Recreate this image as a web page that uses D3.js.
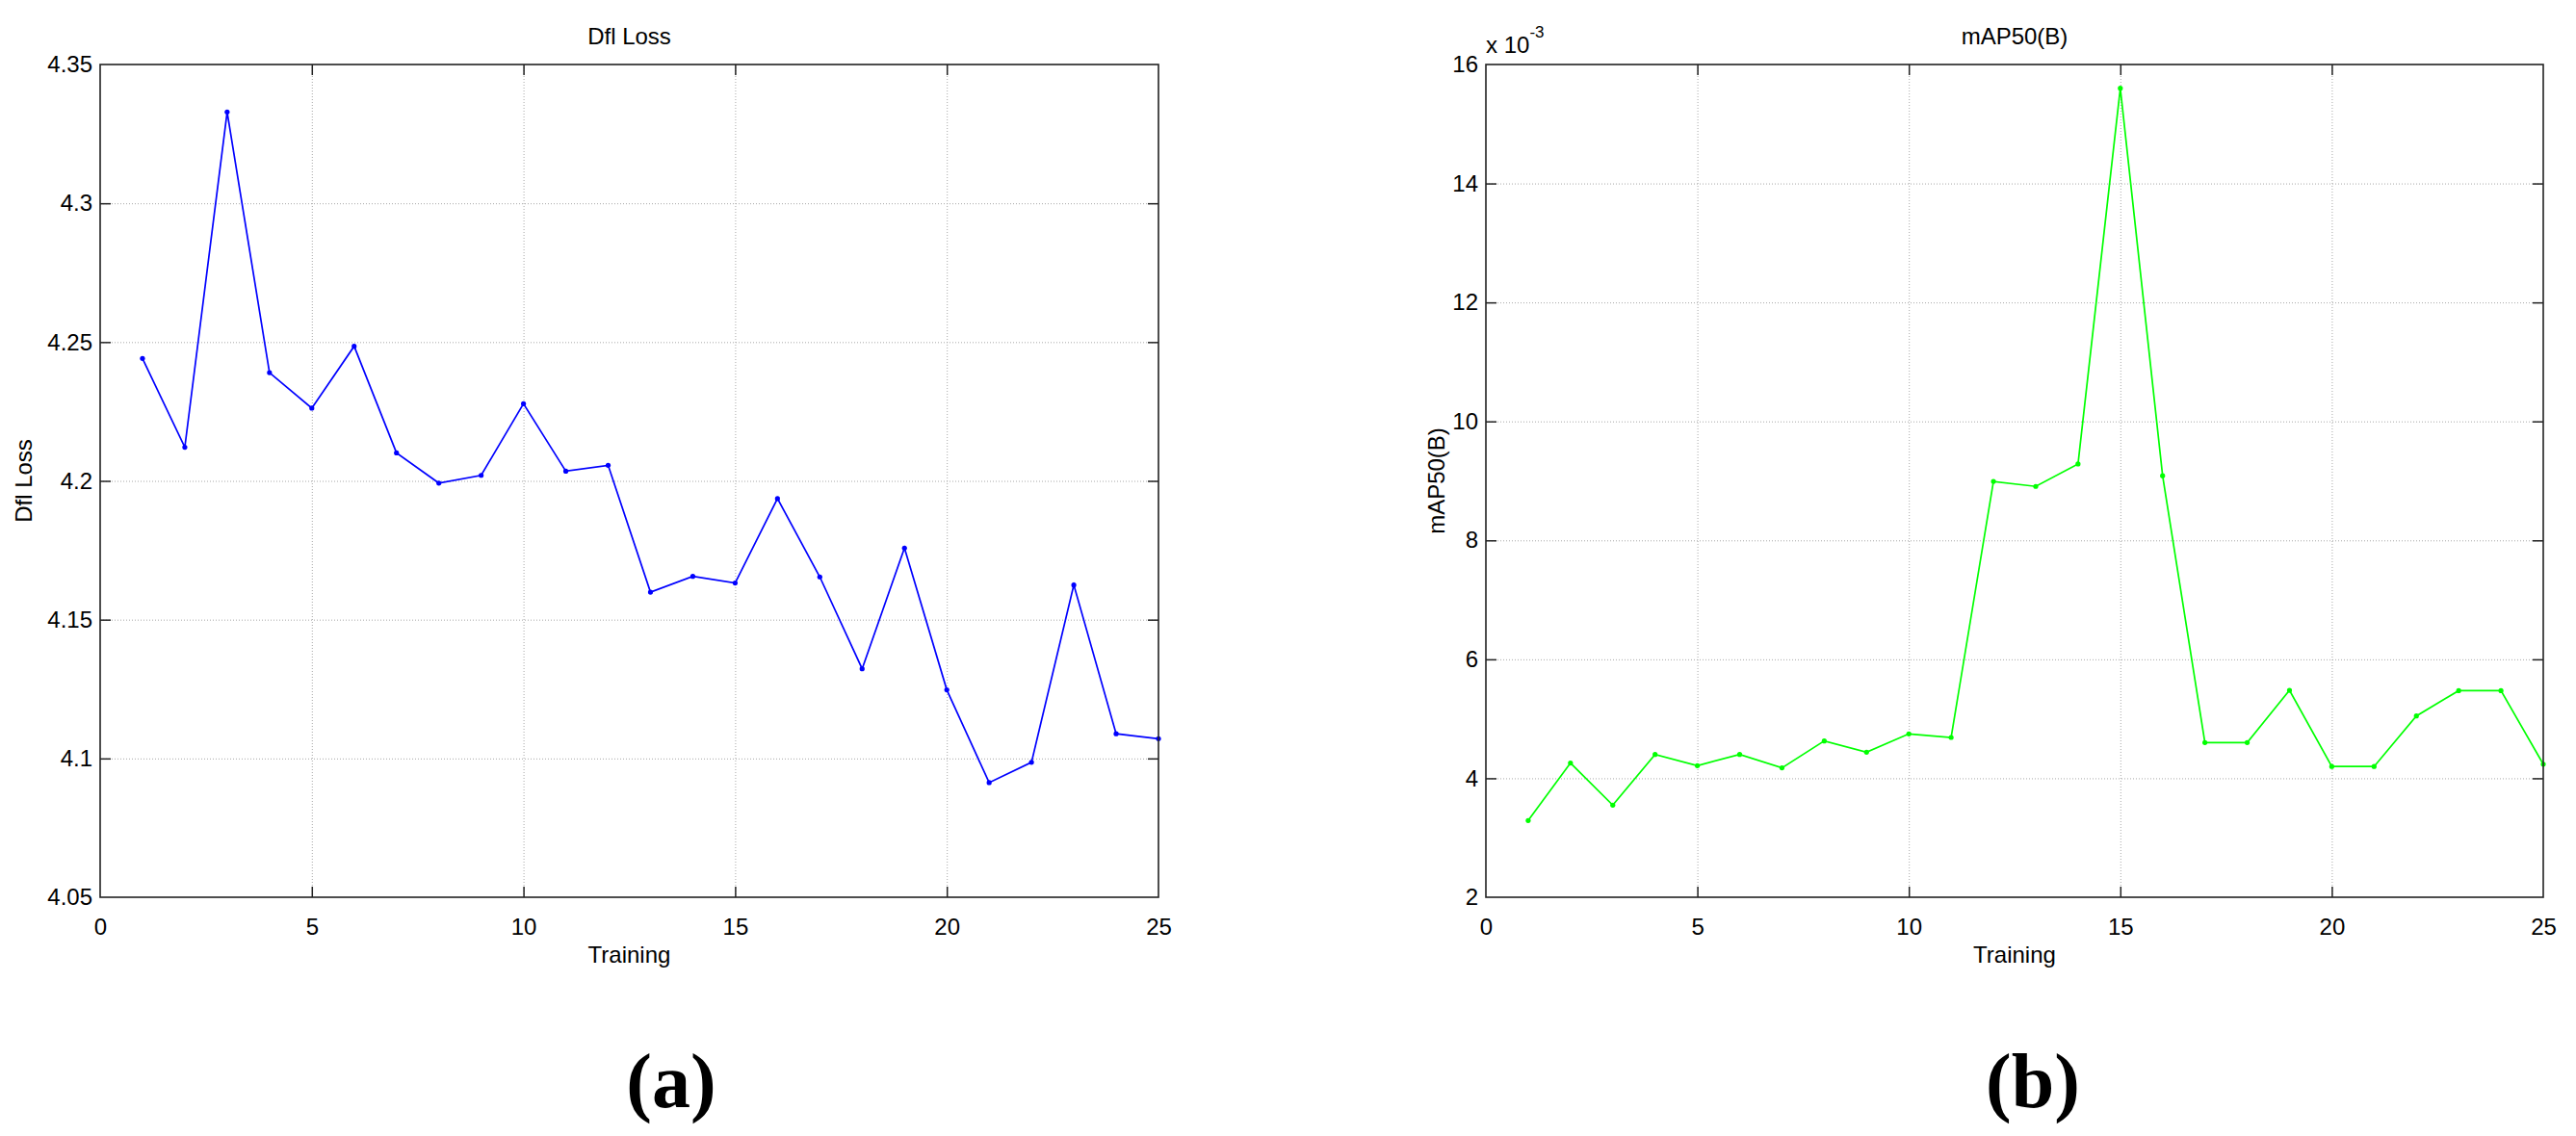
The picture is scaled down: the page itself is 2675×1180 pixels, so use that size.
<!DOCTYPE html>
<html>
<head>
<meta charset="utf-8">
<script src="https://cdn.jsdelivr.net/npm/d3@7"></script>
<style>
  html, body { margin: 0; padding: 0; background: #fff; }
  svg { display: block; }
</style>
</head>
<body>
<svg id="chart" width="2675" height="1180"></svg>
<script>
// ---- data ----
const epochs = [1,2,3,4,5,6,7,8,9,10,11,12,13,14,15,16,17,18,19,20,21,22,23,24,25];
const dflLoss = [4.2441,4.2121,4.3329,4.2390,4.2262,4.2485,4.2101,4.1992,4.2020,4.2278,4.2035,4.2056,4.1599,
                 4.1656,4.1632,4.1936,4.1654,4.1323,4.1758,4.1247,4.0913,4.0986,4.1625,4.1089,4.1071];
const mAP50 = [3.29,4.256,3.549,4.401,4.212,4.401,4.175,4.628,4.439,4.746,4.687,8.99,8.907,9.285,15.60,9.086,
               4.60,4.60,5.479,4.198,4.198,5.048,5.473,5.473,4.237]; // x 10^-3
const xTicks = [0,5,10,15,20,25];
const dflTicks = [4.05,4.1,4.15,4.2,4.25,4.3,4.35];
const mapTicks = [2,4,6,8,10,12,14,16];
const panels = [
  { title: "Dfl Loss", ylabel: "Dfl Loss", xlabel: "Training", values: dflLoss, ticks: dflTicks,
    domain: [4.05, 4.35], color: "#0000ff", caption: "(a)", exponent: null },
  { title: "mAP50(B)", ylabel: "mAP50(B)", xlabel: "Training", values: mAP50, ticks: mapTicks,
    domain: [2, 16], color: "#00ff00", caption: "(b)", exponent: "-3" }
];

// ---- layout ----
const layout = [
  { left: 104, right: 1203, top: 67, bottom: 932, ylabX: 33, capX: 697 },
  { left: 1543, right: 2641, top: 67, bottom: 932, ylabX: 1500, capX: 2111 }
];

const SANS = "'Liberation Sans', Arial, Helvetica, sans-serif";
const SERIF = "'Liberation Serif', 'Times New Roman', serif";
const svg = d3.select("#chart");
const fmt = d => String(+d.toFixed(2));

panels.forEach((p, i) => {
  const L = layout[i];
  const W = L.right - L.left, H = L.bottom - L.top;
  const x = d3.scaleLinear().domain([0, 25]).range([L.left, L.right]);
  const y = d3.scaleLinear().domain(p.domain).range([L.bottom, L.top]);
  const g = svg.append("g");

  // grid
  const grid = g.append("g").attr("class", "grid");
  grid.append("g").attr("transform", `translate(0,${L.bottom})`)
    .call(d3.axisBottom(x).tickValues(xTicks.slice(1, -1)).tickSize(-H).tickFormat(""))
    .call(s => s.select(".domain").remove());
  grid.append("g").attr("transform", `translate(${L.left},0)`)
    .call(d3.axisLeft(y).tickValues(p.ticks.slice(1, -1)).tickSize(-W).tickFormat(""))
    .call(s => s.select(".domain").remove());
  grid.selectAll("line").attr("stroke", "#a8a8a8").attr("stroke-width", 1).attr("stroke-dasharray", "1,2");

  // line + markers
  const line = d3.line().x((d, j) => x(epochs[j])).y(d => y(d));
  g.append("path").datum(p.values).attr("d", line)
    .attr("fill", "none").attr("stroke", p.color).attr("stroke-width", 1.7);
  g.append("g").selectAll("circle").data(p.values).join("circle")
    .attr("cx", (d, j) => x(epochs[j])).attr("cy", d => y(d)).attr("r", 2.6).attr("fill", p.color);

  // axes with inward ticks
  const tickLen = 11;
  const ax = [
    { gen: d3.axisBottom(x).tickValues(xTicks).tickFormat(d3.format("d")), t: `translate(0,${L.bottom})` },
    { gen: d3.axisTop(x).tickValues(xTicks).tickFormat(""), t: `translate(0,${L.top})` },
    { gen: d3.axisLeft(y).tickValues(p.ticks).tickFormat(fmt), t: `translate(${L.left},0)` },
    { gen: d3.axisRight(y).tickValues(p.ticks).tickFormat(""), t: `translate(${L.right},0)` }
  ];
  ax.forEach((a, k) => {
    const ag = g.append("g").attr("transform", a.t)
      .call(a.gen.tickSizeInner(-tickLen).tickSizeOuter(0).tickPadding(k === 0 ? 22 : 8));
    ag.select(".domain").remove();
    ag.selectAll("line").attr("stroke", "#222").attr("stroke-width", 1.5);
    ag.selectAll("text").style("font-size", "24px").style("font-family", SANS).attr("fill", "#000");
    ag.selectAll(".tick").filter(d => (k < 2 ? (d === 0 || d === 25) : (d === p.domain[0] || d === p.domain[1])))
      .select("line").remove();
  });
  // box
  g.append("rect").attr("x", L.left).attr("y", L.top).attr("width", W).attr("height", H)
    .attr("fill", "none").attr("stroke", "#222").attr("stroke-width", 1.6);

  const txt = (sel) => sel.style("font-family", SANS).style("font-size", "24px").attr("fill", "#000");
  // title
  g.append("text").attr("x", (L.left + L.right) / 2).attr("y", 46).attr("text-anchor", "middle")
    .call(txt).text(p.title);
  // x label
  g.append("text").attr("x", (L.left + L.right) / 2).attr("y", 1000).attr("text-anchor", "middle")
    .call(txt).text(p.xlabel);
  // y label
  g.append("text").attr("transform", `translate(${L.ylabX},${(L.top + L.bottom) / 2}) rotate(-90)`)
    .attr("text-anchor", "middle").call(txt).text(p.ylabel);
  // exponent
  if (p.exponent) {
    const ex = g.append("text").attr("x", L.left).attr("y", 55).call(txt);
    ex.append("tspan").text("x 10");
    ex.append("tspan").attr("dy", -16).style("font-size", "17px").text(p.exponent);
  }
  // caption
  g.append("text").attr("x", L.capX).attr("y", 1150).attr("text-anchor", "middle")
    .style("font-family", SERIF).style("font-weight", "bold").style("font-size", "80px")
    .attr("fill", "#000").text(p.caption);
});
</script>
</body>
</html>
